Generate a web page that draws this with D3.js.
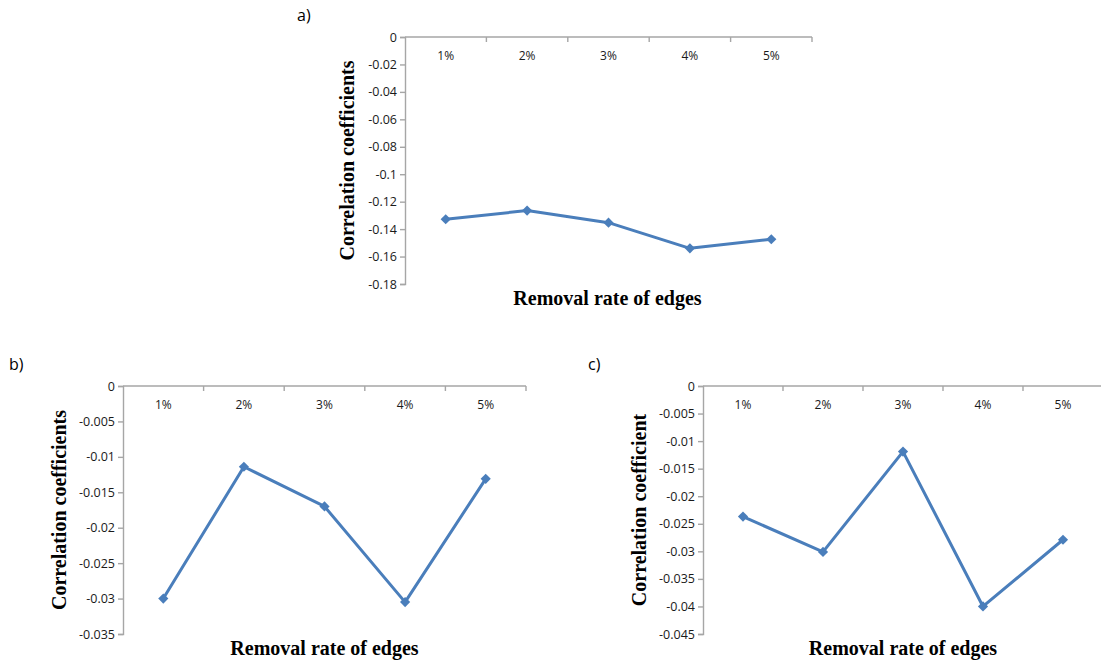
<!DOCTYPE html>
<html>
<head>
<meta charset="utf-8">
<script src="https://cdn.jsdelivr.net/npm/d3@7"></script>
<style>
  html, body { margin: 0; padding: 0; background: #fff; }
  svg { display: block; }
</style>
</head>
<body>
<svg id="chart" width="1101" height="663"></svg>
<script>
// Removal rates shared by all three panels
const categories = ["1%", "2%", "3%", "4%", "5%"];

// Correlation coefficients per panel
const valuesA = [-0.1328, -0.1265, -0.1353, -0.1540, -0.1474];
const valuesB = [-0.0300, -0.0114, -0.0170, -0.0305, -0.0131];
const valuesC = [-0.0237, -0.0301, -0.0119, -0.0400, -0.0279];

// Y tick values per panel
const ticksA = [0, -0.02, -0.04, -0.06, -0.08, -0.1, -0.12, -0.14, -0.16, -0.18];
const ticksB = [0, -0.005, -0.01, -0.015, -0.02, -0.025, -0.03, -0.035];
const ticksC = [0, -0.005, -0.01, -0.015, -0.02, -0.025, -0.03, -0.035, -0.04, -0.045];

const svg = d3.select("#chart");
const lineColor = "#4A7EBB";
const axisColor = "#A6A6A6";

function drawPanel(opts) {
  const { left, top, width, height, values, ticks, yMin, letter, letterX, letterY, yTitle, yTitleX } = opts;
  const g = svg.append("g");

  const x = d3.scaleBand().domain(categories).range([left, left + width]);
  const y = d3.scaleLinear().domain([yMin, 0]).range([top + height, top]);

  // value axis (left)
  const yAxis = d3.axisLeft(y)
    .tickValues(ticks)
    .tickSize(5)
    .tickFormat(d => d === 0 ? "0" : String(d));
  const ya = g.append("g").attr("transform", `translate(${left},0)`).call(yAxis);
  ya.select(".domain").attr("stroke", axisColor).attr("stroke-width", 1.4);
  ya.selectAll(".tick line").attr("stroke", axisColor).attr("stroke-width", 1.4);
  ya.selectAll(".tick text")
    .attr("x", -8)
    .attr("font-family", "'Open Sans', 'Liberation Sans', sans-serif")
    .attr("font-size", 12.5)
    .attr("fill", "#1a1a1a");

  // category axis crossing at zero (top)
  g.append("line")
    .attr("x1", left).attr("x2", left + width)
    .attr("y1", y(0)).attr("y2", y(0))
    .attr("stroke", axisColor).attr("stroke-width", 1.4);
  const bounds = categories.map(c => x(c) + x.bandwidth());
  g.selectAll(".ctick").data(bounds).enter().append("line")
    .attr("x1", d => d).attr("x2", d => d)
    .attr("y1", y(0)).attr("y2", y(0) + 5)
    .attr("stroke", axisColor).attr("stroke-width", 1.4);
  g.selectAll(".clabel").data(categories).enter().append("text")
    .attr("x", d => x(d) + x.bandwidth() / 2)
    .attr("y", y(0) + 23)
    .attr("text-anchor", "middle")
    .attr("font-family", "'Open Sans', 'Liberation Sans', sans-serif")
    .attr("font-size", 12)
    .attr("fill", "#1a1a1a")
    .text(d => d);

  // series line and diamond markers
  const pts = categories.map((c, i) => [x(c) + x.bandwidth() / 2, y(values[i])]);
  g.append("path")
    .attr("d", d3.line()(pts))
    .attr("fill", "none")
    .attr("stroke", lineColor)
    .attr("stroke-width", 3)
    .attr("stroke-linejoin", "round");
  g.selectAll(".mk").data(pts).enter().append("path")
    .attr("d", d3.symbol(d3.symbolDiamond2, 66)())
    .attr("transform", d => `translate(${d[0]},${d[1]})`)
    .attr("fill", lineColor);

  // axis titles
  g.append("text")
    .attr("x", left + width / 2 - (opts.xTitleShift || 0))
    .attr("y", top + height + 21)
    .attr("text-anchor", "middle")
    .attr("font-family", "'Liberation Serif', 'Times New Roman', serif")
    .attr("font-weight", "bold")
    .attr("font-size", 20)
    .attr("fill", "#000")
    .text("Removal rate of edges");
  g.append("text")
    .attr("transform", `translate(${yTitleX},${top + height / 2}) rotate(-90)`)
    .attr("text-anchor", "middle")
    .attr("font-family", "'Liberation Serif', 'Times New Roman', serif")
    .attr("font-weight", "bold")
    .attr("font-size", 20)
    .attr("fill", "#000")
    .text(yTitle);

  // panel letter
  g.append("text")
    .attr("x", letterX).attr("y", letterY)
    .attr("font-family", "'Open Sans', 'Liberation Sans', sans-serif")
    .attr("font-size", 16)
    .attr("fill", "#000")
    .text(letter);
}

drawPanel({
  left: 405, top: 37, width: 407, height: 247,
  values: valuesA, ticks: ticksA, yMin: -0.18,
  letter: "a)", letterX: 297, letterY: 21,
  yTitle: "Correlation coefficients", yTitleX: 354,
  xTitleShift: 1
});
drawPanel({
  left: 123, top: 386, width: 403, height: 248,
  values: valuesB, ticks: ticksB, yMin: -0.035,
  letter: "b)", letterX: 9, letterY: 370,
  yTitle: "Correlation coefficients", yTitleX: 66
});
drawPanel({
  left: 703, top: 386, width: 400, height: 248,
  values: valuesC, ticks: ticksC, yMin: -0.045,
  letter: "c)", letterX: 588, letterY: 370,
  yTitle: "Correlation coefficient", yTitleX: 646
});
</script>
</body>
</html>
